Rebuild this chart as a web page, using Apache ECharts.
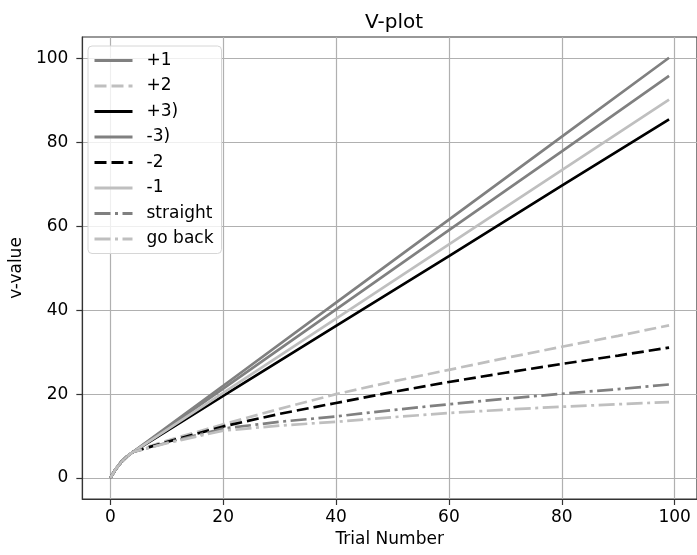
<!DOCTYPE html>
<html>
<head>
<meta charset="utf-8">
<script src="https://cdn.jsdelivr.net/npm/echarts@6/dist/echarts.min.js"></script>
<style>html,body{margin:0;padding:0;background:#fff;}#c{width:697px;height:555px;}</style>
</head>
<body>
<div id="c"></div>
<script>
// x positions where values were read
var xSolid = [0, 1, 2, 3, 4, 20, 40, 60, 80, 99];
var xCurve = [0, 1, 2, 3, 4, 10, 20, 30, 40, 50, 60, 70, 80, 90, 99];

// series values
var plus1    = [0, 2.2, 3.9, 5.2, 6.2, 22.0, 41.8, 61.6, 81.4, 100.2];
var minus3   = [0, 2.2, 3.9, 5.2, 6.2, 21.3, 40.2, 59.1, 77.9, 95.9];
var minus1   = [0, 2.2, 3.9, 5.2, 6.2, 20.3, 38.0, 55.7, 73.4, 90.2];
var plus3    = [0, 2.2, 3.9, 5.2, 6.2, 19.6, 36.3, 52.9, 69.7, 85.5];
var plus2    = [0, 2.2, 3.9, 5.2, 6.2, 8.9, 12.8, 16.5, 20.0, 23.0, 25.8, 28.6, 31.3, 33.9, 36.4];
var minus2   = [0, 2.2, 3.9, 5.2, 6.2, 8.6, 12.3, 15.3, 17.9, 20.5, 22.9, 25.1, 27.2, 29.2, 31.1];
var straight = [0, 2.2, 3.9, 5.2, 6.2, 8.4, 11.8, 13.4, 14.7, 16.2, 17.6, 18.9, 20.1, 21.2, 22.3];
var goBack   = [0, 2.2, 3.9, 5.2, 6.2, 8.3, 11.3, 12.5, 13.4, 14.5, 15.5, 16.3, 17.0, 17.6, 18.1];

// tick labels
var xTicks = [0, 20, 40, 60, 80, 100];
var yTicks = [0, 20, 40, 60, 80, 100];

var seriesNames = ['+1', '+2', '+3)', '-3)', '-2', '-1', 'straight', 'go back'];

function pairs(xs, ys) { return xs.map(function (x, i) { return [x, ys[i]]; }); }

var GRAY = '#808080', LIGHT = '#bfbfbf', BLACK = '#000000';
var LW = 2.7;
var DASH = [12, 5];
var DASHDOT = [16, 4.5, 3, 4.5];

function mk(name, xs, ys, color, type) {
  return {
    name: name, type: 'line', data: pairs(xs, ys),
    showSymbol: false, symbol: 'none', smooth: false, animation: false,
    lineStyle: { color: color, width: LW, type: type, cap: 'butt' },
    itemStyle: { color: color },
    emphasis: { disabled: true }
  };
}

var font = 'DejaVu Sans';
var FS = 17;
var chart = echarts.init(document.getElementById('c'), null, { renderer: 'canvas' });
chart.setOption({
  backgroundColor: '#ffffff',
  animation: false,
  textStyle: { fontFamily: font },
  title: {
    text: 'V-plot', left: 389, top: 8, textAlign: 'center',
    textStyle: { fontFamily: font, fontSize: 20, fontWeight: 'normal', color: '#000' }
  },
  grid: {
    left: 80, top: 37, width: 619, height: 462,
    show: true, borderColor: '#333333', borderWidth: 1.2, backgroundColor: 'transparent'
  },
  legend: {
    orient: 'vertical', left: 88, top: 46,
    data: seriesNames,
    padding: [6, 8, 6, 5],
    itemWidth: 38, itemHeight: 14, itemGap: 8.5,
    itemStyle: { color: 'rgba(0,0,0,0)', borderWidth: 0, borderColor: 'rgba(0,0,0,0)', opacity: 0 },
    lineStyle: { width: 3 },
    backgroundColor: 'rgba(255,255,255,0.8)',
    borderColor: '#d6d6d6', borderWidth: 1, borderRadius: 4,
    textStyle: { fontFamily: font, fontSize: FS, lineHeight: 17, color: '#000', padding: [0, 0, 0, 9] },
    selectedMode: false
  },
  xAxis: {
    type: 'value', min: -4.95, max: 103.95,
    name: 'Trial Number', nameLocation: 'middle', nameGap: 32,
    nameTextStyle: { fontFamily: font, fontSize: FS, color: '#000' },
    axisLine: { show: true, onZero: false, lineStyle: { color: '#333333', width: 1.2 } },
    axisTick: { show: true, inside: false, length: 6, customValues: xTicks, lineStyle: { color: '#333333', width: 1.2 } },
    axisLabel: { customValues: xTicks, fontFamily: font, fontSize: FS, color: '#000', margin: 10 },
    splitLine: { show: true, lineStyle: { color: '#b0b0b0', width: 1.2 } }
  },
  yAxis: {
    type: 'value', min: -5.0, max: 105.15,
    name: 'v-value', nameLocation: 'middle', nameGap: 49, nameRotate: 90,
    nameTextStyle: { fontFamily: font, fontSize: FS, color: '#000' },
    axisLine: { show: true, onZero: false, lineStyle: { color: '#333333', width: 1.2 } },
    axisTick: { show: true, inside: false, length: 6, customValues: yTicks, lineStyle: { color: '#333333', width: 1.2 } },
    axisLabel: { customValues: yTicks, fontFamily: font, fontSize: FS, color: '#000', margin: 14 },
    splitLine: { show: true, lineStyle: { color: '#b0b0b0', width: 1.2 } }
  },
  series: [
    mk('+1', xSolid, plus1, GRAY, 'solid'),
    mk('+2', xCurve, plus2, LIGHT, DASH),
    mk('+3)', xSolid, plus3, BLACK, 'solid'),
    mk('-3)', xSolid, minus3, GRAY, 'solid'),
    mk('-2', xCurve, minus2, BLACK, DASH),
    mk('-1', xSolid, minus1, LIGHT, 'solid'),
    mk('straight', xCurve, straight, GRAY, DASHDOT),
    mk('go back', xCurve, goBack, LIGHT, DASHDOT)
  ]
});
</script>
</body>
</html>
